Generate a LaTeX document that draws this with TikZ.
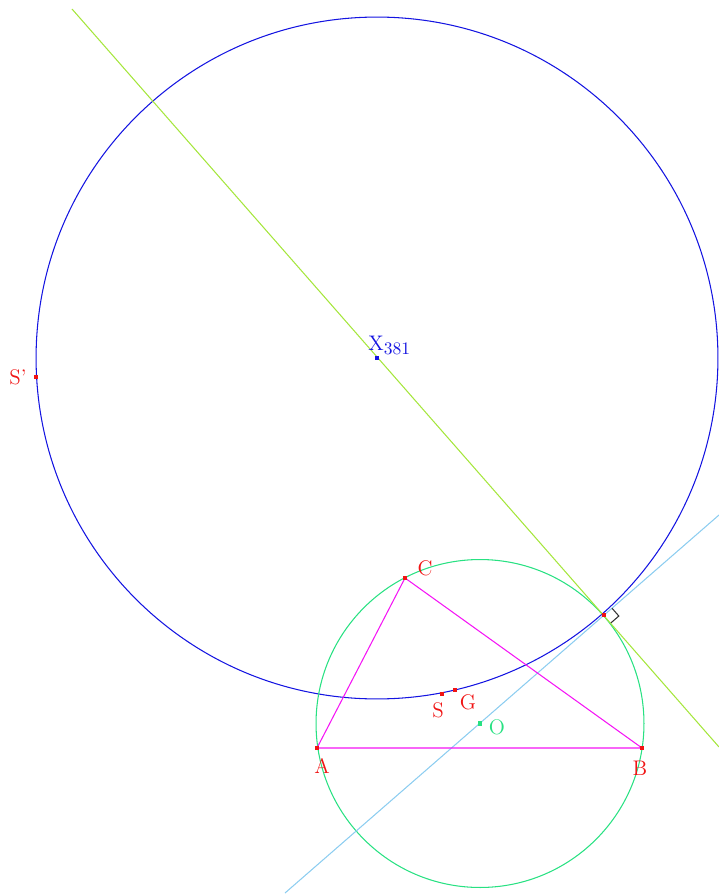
\documentclass[tikz,border=0pt]{standalone}
\usepackage{tikz}
\usetikzlibrary{calc}
\definecolor{geoBlue}{RGB}{20,20,225}
\definecolor{geoRed}{RGB}{240,20,20}
\definecolor{geoGreen}{RGB}{40,225,130}
\definecolor{geoLime}{RGB}{165,230,60}
\definecolor{geoSky}{RGB}{140,205,240}
\definecolor{geoMagenta}{RGB}{245,20,245}
\tikzset{
    geoLine/.style={line width=0.6pt},
    ptDot/.style={rectangle, fill=geoRed, inner sep=0pt, minimum size=0.09cm},
    ptLabel/.style={text=geoRed, font=\large, inner sep=0pt}
}

\begin{document}
\begin{tikzpicture}[x=0.02cm, y=-0.02cm]

        % Frame
        \useasboundingbox (0,0) rectangle (719,895);

        % Coordinates
        \coordinate (A) at (317,748);
        \coordinate (B) at (642,748);
        \coordinate (C) at (405,578);
        \coordinate (X) at (377,358);
        \coordinate (O) at (480,723.5);
        \coordinate (T) at (604,615);
        \coordinate (Sp) at (36,377);
        \coordinate (S) at (442,694);
        \coordinate (G) at (455,690);
        \coordinate (L1) at (72,9);
        \coordinate (L2) at (719,747);
        \coordinate (K1) at (285,893);
        \coordinate (K2) at (719,515);

        % 1. Circles and lines
        \draw[geoLine, geoBlue] (X) circle (6.82cm);
        \draw[geoLine, geoGreen] (O) circle (3.28cm);
        \draw[geoLine, geoLime] (L1) -- (L2);
        \draw[geoLine, geoSky] (K1) -- (K2);
        \draw[geoLine, geoMagenta] (A) -- (B) -- (C) -- cycle;

        % 2. Right angle mark
        \coordinate (Ta) at ($(T)!0.21cm!(K2)$);
        \coordinate (Tb) at ($(T)!0.21cm!(L2)$);
        \coordinate (Tc) at ($(Ta)+(Tb)-(T)$);
        \draw[line width=0.6pt, black!80] (Ta) -- (Tc) -- (Tb);

        % 3. Points
        \foreach \p in {A,B,C,T,Sp,S,G} { \node[ptDot] at (\p) {}; }
        \node[ptDot, fill=geoBlue] (nX) at (X) {};
        \node[ptDot, fill=geoGreen] (nO) at (O) {};

        % 4. Labels
        \node[ptLabel] (labA) at (322,766) {A};
        \node[ptLabel] (labB) at (640,768) {B};
        \node[ptLabel] (labC) at (425,568) {C};
        \node[ptLabel] (labS) at (438,710) {S};
        \node[ptLabel] (labG) at (468,702) {G};
        \node[ptLabel] (labSp) at (18,377) {S'};
        \node[ptLabel, text=geoGreen] (labO) at (497,727) {O};
        \node[ptLabel, text=geoBlue, anchor=base west] (labX) at (368,350) {X\raisebox{-0.5ex}{\normalsize 381}};

    \end{tikzpicture}
\end{document}
